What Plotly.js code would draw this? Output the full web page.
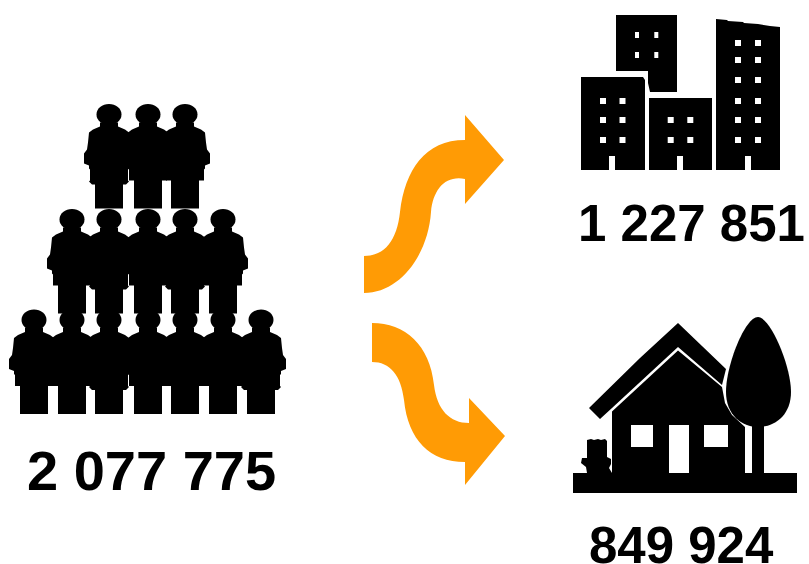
<!DOCTYPE html>
<html><head><meta charset="utf-8">
<script src="https://cdn.plot.ly/plotly-3.0.1.min.js"></script>
<style>html,body{margin:0;padding:0;background:#fff}</style></head>
<body><div id="chart" style="width:809px;height:564px"></div>
<script>
const categories = ["total", "urban", "rural"];
const populationValues = [2077775, 1227851, 849924];
const tickLabels = ["2 077 775", "1 227 851", "849 924"];

const shapes = [];
const BLACK = "#000000", ORANGE = "#FF9B05", WHITE = "#FFFFFF";
function path(d, fill) {
  shapes.push({type:"path", xref:"x", yref:"y", path:d, fillcolor:fill, line:{width:0}, layer:"above"});
}
function poly(points, fill) {
  path("M" + points.map(p => p.join(",")).join("L") + "Z", fill);
}
function rect(x0,y0,x1,y1,fill){ poly([[x0,y0],[x1,y0],[x1,y1],[x0,y1]], fill); }

// people pyramid
function person(cx, cy, hips) {
  const half = [[9,8],[9,12],[16,15],[20,18],[21,28],[22,35],[25,39],[25,49],[20,51],[20,54],[19,55],[19,66]];
  if (hips) half.push([20,67],[17,70],[14,70]); else half.push([14,66]);
  half.push([14,94]);
  const right = half.map(p => [cx+p[0], cy+p[1]]);
  const left = half.slice().reverse().map(p => [cx-p[0], cy+p[1]]);
  poly(right.concat(left), BLACK);
  shapes.push({type:"circle", xref:"x", yref:"y", x0:cx-12.5, x1:cx+12.5, y0:cy-10.5, y1:cy+10.5, fillcolor:BLACK, line:{width:0}, layer:"above"});
}
const rowCenters = [
  {cy:114.5, xs:[109,148,185], hips:[1,0,0]},
  {cy:219.5, xs:[72,109,148,185,223], hips:[0,1,0,1,0]},
  {cy:320, xs:[34,72,109,148,185,223,261], hips:[0,0,1,0,0,0,1]}
];
rowCenters.forEach(r => r.xs.forEach((x,i) => person(x, r.cy, r.hips[i])));

// arrows
path("M364,256C385,256 397,240 400,212C405,170 425,140 465,140L465,115L504,160L465,204L465,179C445,175 433,190 431,212C428,255 400,293 364,293Z", ORANGE);
path("M372,323C405,323 430,345 434,385C437,410 450,423 469,423L469,398L505,436L465,485L465,462C430,462 408,440 404,400C401,375 390,362 372,362Z", ORANGE);

// buildings
function building(pts, doorX, windowsX, windowsY) {
  poly(pts, BLACK);
  if (doorX !== null) rect(doorX,156,doorX+6,170,WHITE);
  windowsX.forEach(x => windowsY.forEach(y => rect(x,y,x+6,y+6,WHITE)));
}
building([[581,77],[643,77],[645,80],[645,170],[581,170]],609,[600,619.5],[98,117,137]);
building([[616,15],[677,15],[677,92],[650,92],[648,83],[648,71],[616,71]],null,[],[]);
[635,654.3].forEach(x => [32,52].forEach(y => rect(x,y,x+4,y+6,WHITE)));
building([[649,98],[712,98],[712,170],[649,170]],677,[667.7,687.3],[117,137]);
building([[716,19],[727,20],[728,21],[743,22],[744,23],[758,24],[770,26],[780,27],[780,170],[716,170]],745,[735,755],[40,57,77,98,117,137]);

// house
rect(573,473,797,493,BLACK);
poly([[678,323],[726,369],[722,385],[678,347],[612,408],[600,419],[589,408],[640,358]],BLACK);
poly([[612,411.5],[678,350.5],[722,387],[725,403],[732,415],[745,427],[745,473],[612,473]],BLACK);
rect(631,425,653,447,WHITE);
rect(669,425,689,473,WHITE);
rect(704,425,728,447,WHITE);
path("M758,317C745,317 726,365 726,392C726,415 742,427 758,427C775,427 791,415 791,392C791,365 770,317 758,317Z",BLACK);
rect(752,425,764,473,BLACK);
poly([[587,440],[591,439],[594,440],[598,439],[601,440],[605,439],[607,441],[607,457],[611,459],[611,464],[609,468],[612,473],[587,473],[586,467],[581,463],[582,458],[587,458]],BLACK);

const labelPos = [[151,470],[691.5,223],[681,545]];
const labelSizes = [56,51,51];
const annotations = tickLabels.map((t,i) => ({
  x:labelPos[i][0], y:labelPos[i][1], xref:"x", yref:"y", text:t, showarrow:false,
  xanchor:"center", yanchor:"middle",
  font:{family:"Liberation Sans, Arial, sans-serif", size:labelSizes[i], color:"#000", weight:700}
}));

Plotly.newPlot("chart", [{x:[], y:[], type:"scatter", mode:"markers", name:categories[0], customdata:populationValues}], {
  width:809, height:564, margin:{l:0,r:0,t:0,b:0}, paper_bgcolor:"#fff", plot_bgcolor:"#fff", showlegend:false,
  xaxis:{range:[0,809], visible:false, fixedrange:true},
  yaxis:{range:[564,0], visible:false, fixedrange:true},
  shapes, annotations
}, {displayModeBar:false, staticPlot:true});
</script></body></html>
